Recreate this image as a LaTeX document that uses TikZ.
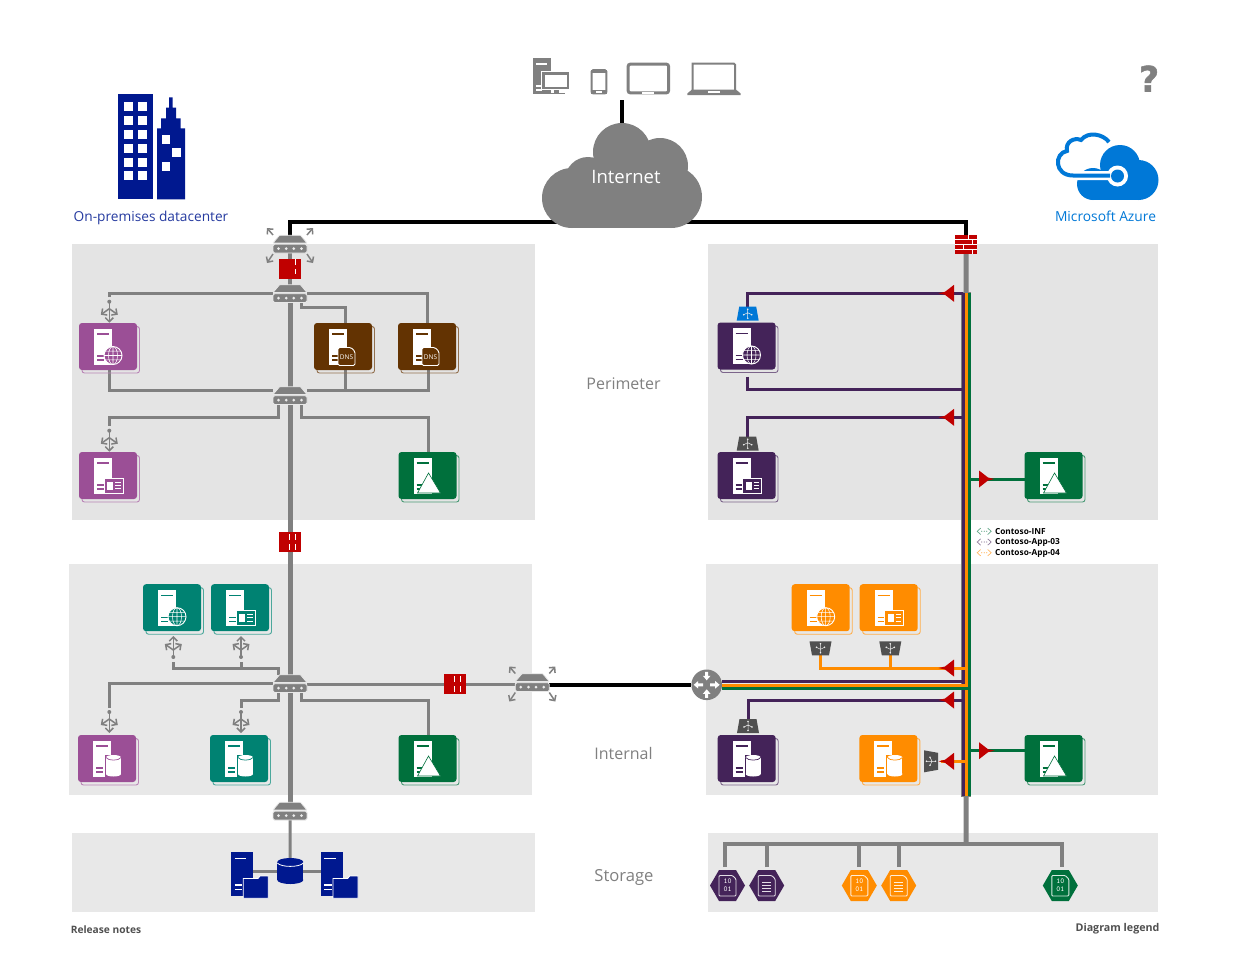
\documentclass[tikz,border=0pt]{standalone}
\usepackage{fontspec}
\setmainfont{Open Sans}
\newfontfamily\dejab{DejaVu Sans}[BoldFeatures={FakeBold=1.5}]
\usetikzlibrary{arrows.meta,calc}
\pgfdeclarelayer{back}\pgfdeclarelayer{wire}
\pgfsetlayers{back,wire,main}
\definecolor{cpurp}{HTML}{442359}
\definecolor{clil}{HTML}{9B4F96}
\definecolor{cbrown}{HTML}{633302}
\definecolor{cgreen}{HTML}{00703C}
\definecolor{cteal}{HTML}{008272}
\definecolor{corange}{HTML}{FF8C00}
\definecolor{cblue}{HTML}{00188F}
\definecolor{cazure}{HTML}{0078D7}
\definecolor{cred}{HTML}{C00000}
\definecolor{cgrey}{HTML}{808080}
\definecolor{cdark}{HTML}{505050}
\definecolor{regA}{HTML}{E4E4E4}
\definecolor{regB}{HTML}{E8E8E8}
\tikzset{
 tilebox/.style={rectangle,rounded corners=3,minimum width=58,minimum height=47,inner sep=0,outer sep=0},
 swbox/.style={rectangle,minimum width=34,minimum height=17,inner sep=0,outer sep=0},
 gw/.style={draw=cgrey,line width=3},
 gw4/.style={draw=cgrey,line width=4},
 gw5/.style={draw=cgrey,line width=5},
 blk/.style={draw=black,line width=4},
 pw/.style={draw=cpurp,line width=3},
 ow/.style={draw=corange,line width=3},
 grw/.style={draw=cgreen,line width=3},
 gar/.style={draw=cgrey,line width=1.5,-{Straight Barb[length=4,width=8]}},
 lbl/.style={inner sep=0,outer sep=0},
 lbbox/.style={rectangle,minimum width=20,minimum height=14,inner sep=0,outer sep=0},
 hexbox/.style={rectangle,minimum width=35,minimum height=31,inner sep=0,outer sep=3},
 glbdot/.style={circle,fill=cgrey,minimum size=4,inner sep=0,outer sep=2.5},
}
% overlays for tiles
\newcommand\ovweb{\begin{scope}[shift={(5,9)}]\draw[white,fill=tc,line width=.9] (0,0) circle (9);\draw[white,line width=.55] (0,-9)--(0,9) (-9,0)--(9,0) (-7.8,-4.4)--(7.8,-4.4) (-7.8,4.4)--(7.8,4.4) (0,0) ellipse (4.5 and 9);\end{scope}}
\newcommand\ovcard{\draw[white,fill=tc,line width=.9] (-4,3) rectangle (15,17.5);\fill[white] (-1,6) rectangle (5,14.5);\draw[white,line width=1] (7,7)--(12.5,7) (7,10.2)--(12.5,10.2) (7,13.4)--(12.5,13.4);}
\newcommand\ovdns{\draw[white,fill=tc,line width=.9,rounded corners=1.5] (-5,1)--(8,1)--(12,5)--(12,19)--(-5,19)--cycle;\node[lbl,white,font=\fontsize{6.5}{7}\selectfont] (\tname lbl) at (3.5,10.5) {DNS};}
\newcommand\ovdb{\fill[tc] (-2,-4) rectangle (15,18.5);\fill[white] (-1,-1) rectangle (14,15.5);\fill[white] (6.5,15.5) ellipse (7.5 and 2.5);\fill[white] (6.5,-1) ellipse (7.5 and 2.5);\draw[tc,line width=.7] (-1,-1) .. controls (1,2.5) and (12,2.5) .. (14,-1);}
\newcommand\ovmount{\draw[tc,fill=white,line width=.6] (1,-2.5)--(-10,17.5)--(13,17.5)--cycle;}
% tile: name,x,y,colour,overlay
\newcommand\tile[5]{\colorlet{tc}{#4}\def\tname{#1}\begin{scope}[shift={(#2,#3)}]
 \draw[tc!70!white,line width=.9,rounded corners=2.5] (-26,-20) rectangle (31.5,26.5);
 \node[tilebox,fill=tc] (#1) at (0,0) {};
 \fill[white] (-14,-18) rectangle (4,18);
 \draw[tc,line width=1.2] (-11,-12.5)--(1,-12.5) (-11,9.5)--(-4,9.5) (-11,13.5)--(-4,13.5);
 #5
\end{scope}}
% switch
\newcommand\swicon[3]{\begin{scope}[shift={(#2,#3)}]
 \node[swbox] (#1) at (0,0) {};
 \draw[regB,fill=cgrey,line width=.8,rounded corners=.5] (-10.5,-8.7)--(10.5,-8.7)--(17,-1)--(-17,-1)--cycle;
 \draw[regB,fill=cgrey,line width=.8,rounded corners=1.5] (-17,0.2) rectangle (17,9);
 \foreach \dx in {-11.5,-3.8,3.8,11.5}{\fill[white!92!black] (\dx,4.6) circle (1.5);}
\end{scope}}
\newcommand\swarrows[2]{\begin{scope}[shift={(#1,#2)}]
 \draw[gar] (-17,-9)--(-23,-16); \draw[gar] (17,-9)--(23,-16);
 \draw[gar] (-17,10)--(-23,19); \draw[gar] (17,10)--(23,19);
\end{scope}}
% firewall with white slits
\newcommand\fwH[3]{\node[rectangle,fill=cred,minimum width=22,minimum height=20,inner sep=0,outer sep=0] (#1) at (#2,#3) {};
 \draw[white,line width=.7] ($(#2,#3)+(-1,-8)$)--($(#2,#3)+(-1,-2)$) ($(#2,#3)+(-1,2)$)--($(#2,#3)+(-1,8)$) ($(#2,#3)+(5,-8)$)--($(#2,#3)+(5,-2)$) ($(#2,#3)+(5,2)$)--($(#2,#3)+(5,8)$);}
% arrowheads
\newcommand\redL[2]{\fill[cred,shift={(#1,#2)}] (0,-8.5)--(-9,-1.5)--(-15.5,0)--(-9,1.5)--(0,8.5)--cycle;}
\newcommand\redR[2]{\fill[cred,shift={(#1,#2)}] (0,-8.5)--(9,-1.5)--(15.5,0)--(9,1.5)--(0,8.5)--cycle;}
% trapezoid load balancer: name,x,y,colour,rotation
\newcommand\lb[5]{\node[lbbox] (#1) at (#2,#3) {};
 \begin{scope}[shift={(#2,#3)},rotate=#5]
 \fill[#4] (-8.5,-7)--(8.5,-7)--(11,7)--(-11,7)--cycle;
 \draw[white!85!gray,line width=.5] (0,-4.5)--(0,4.5) (-4,1)--(0,-1)--(4,1);
 \fill[white!85!gray] (0,-4.5) circle (.9);\fill[white!85!gray] (0,4.5) circle (.9);\fill[white!85!gray] (-4,1) circle (.9);\fill[white!85!gray] (4,1) circle (.9);
 \end{scope}}
% open grey balancer: name,x,y,direction(+1 down / -1 up)
\newcommand\glb[4]{\node[glbdot] (#1) at (#2,#3) {};
 \begin{scope}[shift={(#2,#3)},yscale=#4]
 \draw[gar] (0,1)--(0,21);
 \draw[gar] (0,7)--(-8.5,13);
 \draw[gar] (0,7)--(8.5,13);
 \end{scope}}
% hexagon: name,x,colour,kind
\newcommand\hexi[4]{\colorlet{tc}{#3}\begin{scope}[shift={(#2,885.5)}]
 \node[hexbox] (#1) at (0,0) {};
 \fill[tc] (-17.5,0)--(-8.5,-15.5)--(8.5,-15.5)--(17.5,0)--(8.5,15.5)--(-8.5,15.5)--cycle;
 \draw[white!85!tc,line width=.9,rounded corners=1] (-8.5,-10)--(5,-10)--(8.5,-6.5)--(8.5,10.5)--(-8.5,10.5)--cycle;
 #4
\end{scope}}
\newcommand\hexbin[1]{\node[lbl,white,font=\fontsize{7.5}{8}\selectfont\ttfamily] (#1a) at (0,-4.2) {10};\node[lbl,white,font=\fontsize{7.5}{8}\selectfont\ttfamily] (#1b) at (0,3.8) {01};}
\newcommand\hexdoc{\draw[white!85!tc,line width=1] (-4.5,-3.5)--(4.5,-3.5) (-4.5,-.5)--(4.5,-.5) (-4.5,2.5)--(4.5,2.5) (-4.5,5.5)--(4.5,5.5);}
% legend mark
\newcommand\legm[2]{\begin{scope}[shift={(984.2,#2)},#1!60!white,line width=.7]
 \draw (-3.5,-3.2)--(-7,0)--(-3.5,3.2) (3.5,-3.2)--(7,0)--(3.5,3.2);
 \fill (-2.5,0) circle (.6);\fill (0,0) circle (.6);\fill (2.5,0) circle (.6);
\end{scope}}
\begin{document}
\begin{tikzpicture}[x=1pt,y=-1pt]
\useasboundingbox (0,0) rectangle (1246,975);
% regions
\begin{pgfonlayer}{back}
\fill[white] (0,0) rectangle (1246,975);
\fill[regA] (72,244) rectangle (535,520);
\fill[regA] (708,244) rectangle (1158,520);
\fill[regB] (69,564) rectangle (532,795);
\fill[regB] (706,564) rectangle (1158,795);
\fill[regB] (72,833) rectangle (535,912);
\fill[regB] (708,833) rectangle (1158,912);
\end{pgfonlayer}
% building
\fill[cblue] (118.3,94.3) rectangle (152.7,199.3);
\foreach \r in {0,...,5}{\fill[white] (124,102.3+13.8*\r) rectangle (133,111.3+13.8*\r);\fill[white] (137.7,102.3+13.8*\r) rectangle (146.7,111.3+13.8*\r);}
\fill[cblue] (157,199.3)--(157,128.3)--(161,128.3)--(161,118.3)--(166,118.3)--(166,107.7)--(169,107.7)--(169,97.3)--(172.7,97.3)--(172.7,107.7)--(176,107.7)--(176,118.3)--(180.7,118.3)--(180.7,128.3)--(185,128.3)--(185,199.3)--cycle;
\fill[white] (161.7,135) rectangle (170.2,143.5);\fill[white] (172.3,148.3) rectangle (180.8,156.8);\fill[white] (161.7,162.3) rectangle (170.2,170.8);
\node[lbl,text=cblue!85!white,font=\fontsize{13.7}{16}\selectfont] (onprem) at (151,217.5) {On-premises datacenter};
% devices
\fill[cgrey] (533.3,58.3) rectangle (550.7,94.3);
\draw[white,line width=1.1] (536,64)--(547,64) (536,86)--(542,86) (536,90)--(542,90);
\draw[white,fill=cgrey,line width=1] (541.8,71.2) rectangle (569.8,89.8);
\fill[white] (545,74.5) rectangle (566.5,86.5);
\fill[cgrey] (553.5,89.8) rectangle (558.5,92.5);\fill[cgrey] (547.5,92.5) rectangle (564.5,94.3);
\draw[cgrey,line width=2,rounded corners=1.5] (591.7,70) rectangle (606.3,93.3);
\fill[cgrey] (591,70) rectangle (607,72.5);\fill[cgrey] (591,90) rectangle (607,94);
\fill[white] (596,91.2) rectangle (602,92.6);
\draw[cgrey,line width=3,rounded corners=2] (628.2,64.2) rectangle (668.5,92.8);
\fill[white] (642,92.2) rectangle (654,93.6);
\draw[cgrey,line width=2] (692.7,90) -- (692.7,63.7) [rounded corners=1] -- (735,63.7) -- (735,90);
\fill[cgrey] (692,89.5)--(735.8,89.5)--(740.7,93.5)--(740.7,95)--(687.3,95)--(687.3,93.5)--cycle;
\fill[white] (708,91) rectangle (720,92.8);
% cloud
\fill[cgrey] (572,198) circle (30);\fill[cgrey] (588,180) circle (23);\fill[cgrey] (622,152) circle (29);\fill[cgrey] (660,166) circle (28);\fill[cgrey] (671,197) circle (31);\fill[cgrey] (572,170) rectangle (671,228.3);
\node[lbl,text=white,font=\fontsize{18.5}{22}\selectfont] (inet) at (626,176.5) {Internet};
\coordinate (cloudL) at (600,222);\coordinate (cloudR) at (650,222);\coordinate (cloudT) at (622,130);\coordinate (devs) at (622,100);
% question mark and azure
\node[lbl,text=cgrey,font=\dejab\bfseries\fontsize{35}{36}\selectfont] (help) at (1149,78.5) {?};
\fill[cazure] (1120,165) circle (20);\fill[cazure] (1138.5,180) circle (20);\fill[cazure] (1093,184) circle (16);\fill[cazure] (1093,176) rectangle (1139,200);
\draw[white,line width=9] (1109,142) .. controls (1103,134) and (1088,131) .. (1081,140) .. controls (1074,137) and (1065,142) .. (1067,151) .. controls (1054,153) and (1054,175.5) .. (1073,175.5) -- (1110,175.5);
\fill[white] (1117.5,176) circle (10.5);
\draw[cazure,line width=4] (1109,142) .. controls (1103,134) and (1088,131) .. (1081,140) .. controls (1074,137) and (1065,142) .. (1067,151) .. controls (1054,153) and (1054,175.5) .. (1073,175.5) -- (1110,175.5);
\fill[cazure] (1117.5,176) circle (6.5);
\node[lbl,text=cazure,font=\fontsize{13.8}{16}\selectfont] (azure) at (1105.5,216) {Microsoft Azure};
% captions
\node[lbl,text=cgrey,font=\fontsize{16}{18}\selectfont] (perim) at (623.5,384) {Perimeter};
\node[lbl,text=cgrey,font=\fontsize{16}{18}\selectfont] (intern) at (623.5,753) {Internal};
\node[lbl,text=cgrey,font=\fontsize{16.6}{18}\selectfont] (stor) at (624,877) {Storage};
\node[lbl,text=cdark,font=\bfseries\fontsize{10.2}{13}\selectfont] (rel) at (106,930) {Release notes};
\node[lbl,text=cdark,font=\bfseries\fontsize{10.7}{13}\selectfont] (dleg) at (1117.5,928.5) {Diagram legend};
% legend
\legm{cgreen}{531.3}\legm{cpurp}{542}\legm{corange}{552.7}
\node[lbl,anchor=west,font=\bfseries\fontsize{8.3}{10}\selectfont] (leg1) at (995,531.5) {Contoso-INF};
\node[lbl,anchor=west,font=\bfseries\fontsize{8.3}{10}\selectfont] (leg2) at (995,542.5) {Contoso-App-03};
\node[lbl,anchor=west,font=\bfseries\fontsize{8.3}{10}\selectfont] (leg3) at (995,553.5) {Contoso-App-04};
% tiles on-premises
\tile{webA}{108}{346.5}{clil}{\ovweb}
\tile{dnsA}{343}{346.5}{cbrown}{\ovdns}
\tile{dnsB}{427}{346.5}{cbrown}{\ovdns}
\tile{appA}{108}{475.5}{clil}{\ovcard}
\tile{adA}{427.5}{475.5}{cgreen}{\ovmount}
\tile{webB}{172}{607.7}{cteal}{\ovweb}
\tile{appB}{240}{607.7}{cteal}{\ovcard}
\tile{dbA}{107}{758.5}{clil}{\ovdb}
\tile{dbB}{239}{758.5}{cteal}{\ovdb}
\tile{adB}{427.5}{758.5}{cgreen}{\ovmount}
% tiles azure
\tile{webC}{746.5}{346}{cpurp}{\ovweb}
\tile{appC}{746.5}{475.5}{cpurp}{\ovcard}
\tile{adC}{1053.5}{475.5}{cgreen}{\ovmount}
\tile{webD}{820.7}{607.7}{corange}{\ovweb}
\tile{appD}{888.7}{607.7}{corange}{\ovcard}
\tile{dbC}{746.7}{758.5}{cpurp}{\ovdb}
\tile{dbD}{888.4}{758.5}{corange}{\ovdb}
\tile{adD}{1053.5}{758.5}{cgreen}{\ovmount}
% switches
\swicon{swA}{290}{244}\swarrows{290}{244}
\swicon{swB}{290}{293.5}
\swicon{swC}{290}{395.5}
\swicon{swD}{290}{683.5}
\swicon{swE}{532.3}{682.5}\swarrows{532.3}{682.5}
\swicon{swF}{290}{811}
% firewalls
\node[rectangle,fill=cred,minimum width=22,minimum height=20,inner sep=0,outer sep=0] (fwA) at (290,269) {};
\draw[white,line width=.7] (295.7,259)--(295.7,265) (295.7,269)--(295.7,274);
\fwH{fwB}{290}{542}
\fwH{fwC}{455}{684}
\node[rectangle,fill=cred,minimum width=22.3,minimum height=19,inner sep=0,outer sep=0] (fwD) at (966.2,244.5) {};
\draw[white,line width=.8] (955,239.7)--(977.3,239.7) (955,244.5)--(977.3,244.5) (955,249.3)--(977.3,249.3) (968,235)--(968,239.7) (972,239.7)--(972,244.5) (963,244.5)--(963,249.3) (972,249.3)--(972,254);
% grey balancers
\glb{gA}{109.3}{301.7}{1}
\glb{gB}{109.3}{430.7}{1}
\glb{gC}{173.3}{657}{-1}
\glb{gD}{241}{657}{-1}
\glb{gE}{109.3}{712}{1}
\glb{gF}{241}{712}{1}
% coloured balancers
\lb{lA}{747.7}{313.7}{cazure}{0}
\lb{lB}{747.7}{443.7}{cdark}{0}
\lb{lC}{820.5}{648.3}{cdark}{180}
\lb{lD}{890.3}{648.3}{cdark}{180}
\lb{lE}{748}{726}{cdark}{0}
\lb{lF}{931}{761.3}{cdark}{-90}
% router
\node[circle,fill=cgrey,minimum size=30.6,inner sep=0,outer sep=0] (rt) at (706.7,684.8) {};
\begin{scope}[shift={(706.7,684.8)}]
 \fill[white] (0,-4.5)--(-3.8,-9)--(-1.5,-9)--(-1.5,-13)--(1.5,-13)--(1.5,-9)--(3.8,-9)--cycle;
 \fill[white] (0,4.5)--(-3.8,9)--(-1.5,9)--(-1.5,13)--(1.5,13)--(1.5,9)--(3.8,9)--cycle;
 \fill[white] (-13,0)--(-8.5,-3.8)--(-8.5,-1.5)--(-3.5,-1.5)--(-3.5,1.5)--(-8.5,1.5)--(-8.5,3.8)--cycle;
 \fill[white] (13,0)--(8.5,-3.8)--(8.5,-1.5)--(3.5,-1.5)--(3.5,1.5)--(8.5,1.5)--(8.5,3.8)--cycle;
\end{scope}
% hexagons
\hexi{hA}{727.5}{cpurp}{\hexbin{hA}}
\hexi{hB}{766.7}{cpurp}{\hexdoc}
\hexi{hC}{859.3}{corange}{\hexbin{hC}}
\hexi{hD}{898.7}{corange}{\hexdoc}
\hexi{hE}{1060.3}{cgreen}{\hexbin{hE}}
% storage on-premises
\node[rectangle,fill=cblue,minimum width=22.3,minimum height=43.4,inner sep=0,outer sep=0] (srvA) at (242.15,874) {};
\node[rectangle,fill=cblue,minimum width=22,minimum height=43.4,inner sep=0,outer sep=0] (srvB) at (331.7,874) {};
\foreach \ox in {0,89.7}{\begin{scope}[xshift=\ox pt]
 \draw[white,line width=1.2] (234.5,858.7)--(246,858.7) (234.5,885)--(242,885) (234.5,889.5)--(242,889.5);
 \draw[white,fill=cblue,line width=.8] (243.3,878.5)--(258,878.5)--(260,876)--(268.3,876)--(268.3,898.3)--(243.3,898.3)--cycle;
\end{scope}}
\node[rectangle,minimum width=26,minimum height=26,inner sep=0,outer sep=0] (nas) at (290.3,871.5) {};
\fill[cblue] (277.3,862) rectangle (303.3,880);\fill[cblue] (290.3,862) ellipse (13 and 4);\fill[cblue] (290.3,880) ellipse (13 and 4);
\draw[white,line width=.8] (277.3,863) .. controls (281,867.5) and (299.6,867.5) .. (303.3,863);
% named junctions
\coordinate (pTop) at (963.3,293.3);\coordinate (oTop) at (966.4,293.3);\coordinate (gTop) at (969,293.3);
\coordinate (pBot) at (963.3,796);\coordinate (oBot) at (966.4,796);\coordinate (gBot) at (969,796);
\coordinate (pJa) at (963.3,389.3);\coordinate (pJb) at (963.3,417.3);\coordinate (gJa) at (969,479);
\coordinate (oJa) at (966.4,668);\coordinate (pJc) at (963.3,700);\coordinate (oJb) at (966.4,761.3);\coordinate (gJb) at (969,750.7);
\coordinate (pBand) at (963.3,681.8);\coordinate (oBand) at (966.4,685);\coordinate (gBand) at (970,688.3);
\coordinate (bus) at (966,844.3);
% wires
\begin{pgfonlayer}{wire}
\draw[blk] (devs)--(cloudT);
\draw[blk] (swA.north) |- (cloudL);
\draw[blk] (cloudR) -| (fwD.north);
\draw[gw4] (swA)--(swB);
\draw[gw5] (swB)--(swC);
\draw[gw5] (swC)--(swD);
\draw[gw5] (swD)--(swF);
\draw[gw] (swF)--(nas);
\draw[gw] (srvA.east |- nas.west)--(nas.west);
\draw[gw] (nas.east)--(srvB.west |- nas.east);
\draw[gw] (gA.north) |- (swB.west);
\draw[gw] (swB.east) -| ([xshift=.7pt]dnsB.north);
\draw[gw] ([xshift=11.5pt]swB.south) -- ([xshift=11.5pt,yshift=-5.5pt]swB.south) -| ([xshift=2pt]dnsA.north);
\draw[gw] ([xshift=1.3pt]webA.south) |- ([yshift=5.5pt]swC.west);
\draw[gw] ([xshift=1pt]dnsB.south) |- ([yshift=5.5pt]swC.east);
\draw[gw] ([xshift=2pt]dnsA.south) -- ([xshift=2pt,yshift=-20pt]dnsA.south);
\draw[gw] ([xshift=-11.5pt]swC.south) -- ([xshift=-11.5pt,yshift=-13pt]swC.south) -| (gB.north);
\draw[gw] ([xshift=11.5pt]swC.south) -- ([xshift=11.5pt,yshift=-13pt]swC.south) -| ([xshift=.5pt]adA.north);
\draw[gw] ([xshift=-11.3pt]swD.north) -- ([xshift=-11.3pt,yshift=6.3pt]swD.north) -| (gC.south);
\draw[gw] ([xshift=-11.3pt,yshift=6.3pt]swD.north) -| (gD.south);
\draw[gw] (gE.north) |- (swD.west);
\draw[gw] (swD.east |- fwC.west)--(fwC.west);
\draw[gw] (fwC.east)--(swE.west |- fwC.east);
\draw[gw] ([xshift=-11.3pt]swD.south) -- ([xshift=-11.3pt,yshift=-8.3pt]swD.south) -| (gF.north);
\draw[gw] ([xshift=11pt]swD.south) -- ([xshift=11pt,yshift=-8.3pt]swD.south) -| ([xshift=.8pt]adB.north);
\draw[blk] (swE.east |- rt.west)--(rt.west);
\draw[gw5] (fwD.south)--(bus);
\draw[gw4] ([xshift=-2.5pt]hA.north) |- (bus) -| ([xshift=1.4pt]hE.north);
\draw[gw4] (hB.north)--(hB.north |- bus);
\draw[gw4] (hC.north)--(hC.north |- bus);
\draw[gw4] (hD.north)--(hD.north |- bus);
% coloured bundle
\draw[draw=cgrey,line width=9.8] (966.2,292)--(966.2,797);
\draw[pw] (pTop)--(pBot);
\draw[ow] (oTop)--(oBot);
\draw[grw] (gTop)--(gBot);
\draw[pw] (lA.north) |- (pTop);
\draw[pw] ([xshift=1pt,yshift=-7pt]webC.south) |- (pJa);
\draw[pw] (lB.north) |- (pJb);
\draw[grw] (gJa)--(adC.west |- gJa);
\draw[ow] (lC.south) |- (oJa);
\draw[ow] (lD.south) -- (lD.south |- oJa);
\draw[pw] (lE.north) |- (pJc);
\draw[ow] (lF.east |- oJb)--(oJb);
\draw[grw] (gJb)--(adD.west |- gJb);
\draw[pw] (rt.east |- pBand)--(pBand);
\draw[ow] (rt.east |- oBand)--(oBand);
\draw[grw] (rt.east |- gBand)--(gBand);
\end{pgfonlayer}
% red heads
\redL{954}{293.3}\redL{954}{417.3}\redR{979}{479}
\redL{954}{668}\redL{954}{700}\redL{954}{761.3}\redR{979}{750.7}
\end{tikzpicture}
\end{document}
